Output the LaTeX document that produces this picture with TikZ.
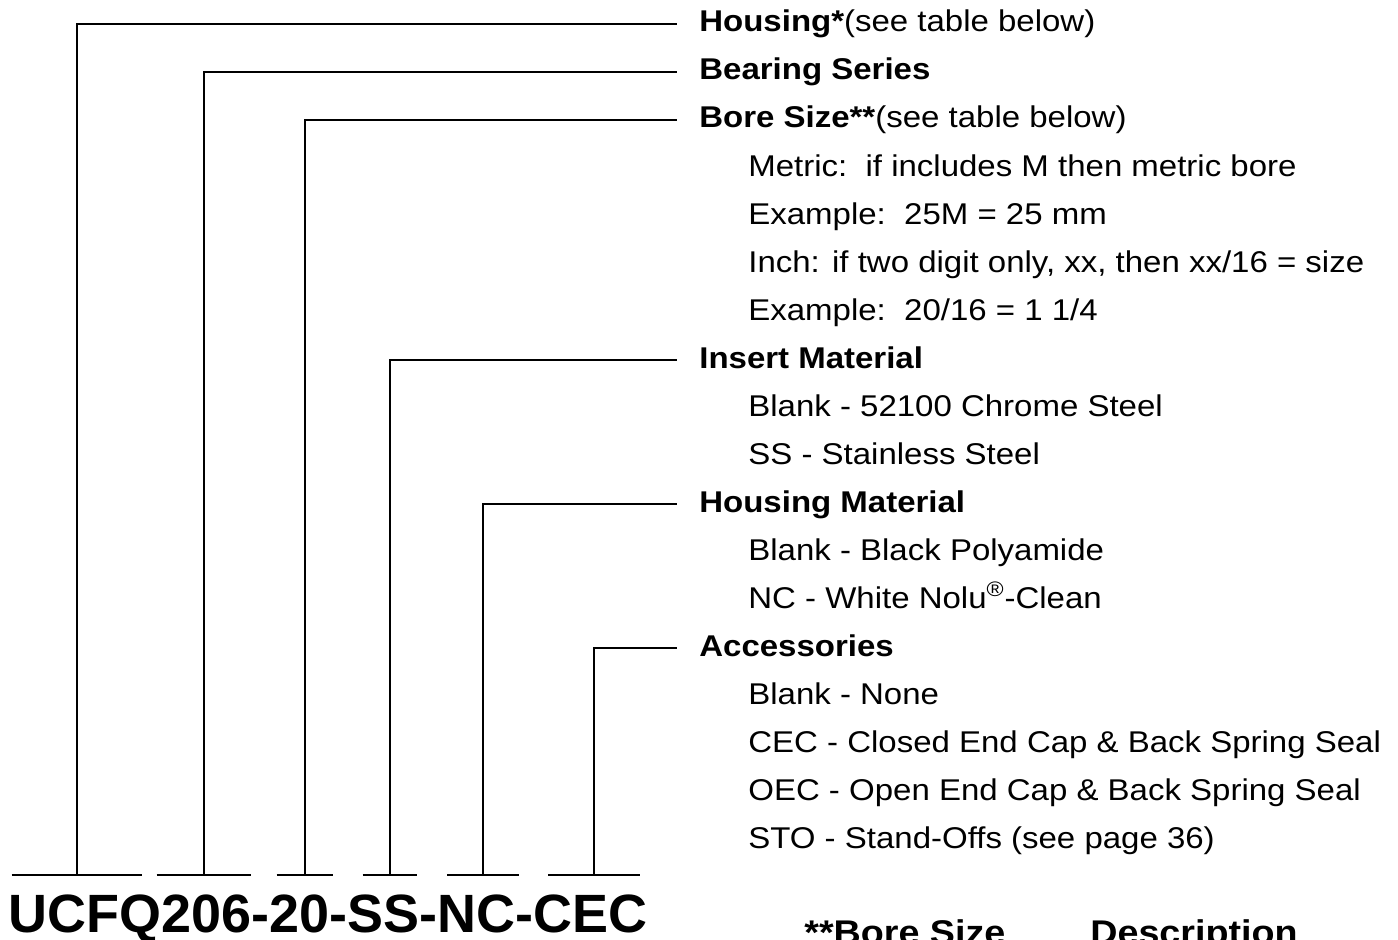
\documentclass[tikz,border=0pt]{standalone}
\usepackage{fontspec}
\setmainfont{Liberation Sans}[FakeStretch=1.1]
\newfontfamily\codefont{Liberation Sans}
\usetikzlibrary{positioning}
\tikzset{
  head/.style={anchor=base west, inner xsep=0.44cm, inner ysep=0pt, text height=0.44cm, text depth=0.12cm, font=\fontsize{17.07pt}{20pt}\selectfont\bfseries},
  sub/.style={anchor=base west, inner sep=0pt, font=\fontsize{17.07pt}{20pt}\selectfont},
  seg/.style={inner sep=0pt, minimum height=0pt},
  lead/.style={line width=1.6pt},
  code/.style={anchor=base, inner sep=0pt, font=\codefont\fontsize{30.7pt}{36pt}\selectfont\bfseries},
  tablehead/.style={anchor=base west, inner sep=0pt, font=\fontsize{19.5pt}{24pt}\selectfont\bfseries}
}
\begin{document}
\begin{tikzpicture}[x=0.02cm, y=-0.02cm]
  \useasboundingbox (0,0) rectangle (1398,939);
  \clip (0,0) rectangle (1398,939);
  % headings with leaders
  \node[head] (housing) at (677,32) {Housing*\mdseries(see table below)};
  \node[head] (series) at (677,80) {Bearing Series};
  \node[head] (bore) at (677,128) {Bore Size**\mdseries(see table below)};
  \node[sub] (metric) at (748,176) {Metric:\ \ if includes M then metric bore};
  \node[sub] (metricex) at (748,224) {Example:\ \ 25M = 25 mm};
  \node[sub] (inch) at (748,272) {Inch: if two digit only, xx, then xx/16 = size};
  \node[sub] (inchex) at (748,320) {Example:\ \ 20/16 = 1 1/4};
  \node[head] (insert) at (677,368) {Insert Material};
  \node[sub] (chrome) at (748,416) {Blank - 52100 Chrome Steel};
  \node[sub] (stainless) at (748,464) {SS - Stainless Steel};
  \node[head] (hsgmat) at (677,512) {Housing Material};
  \node[sub] (polyamide) at (748,560) {Blank - Black Polyamide};
  \node[sub] (nolu) at (748,608) {NC - White Nolu\textsuperscript{®}-Clean};
  \node[head] (acc) at (677,656) {Accessories};
  \node[sub] (none) at (748,704) {Blank - None};
  \node[sub] (cec) at (748,752) {CEC - Closed End Cap \& Back Spring Seal};
  \node[sub] (oec) at (748,800) {OEC - Open End Cap \& Back Spring Seal};
  \node[sub] (sto) at (748,848) {STO - Stand-Offs (see page 36)};

  % part number and its segments
  \node[code] (code) at (328,932) {UCFQ206-20-SS-NC-CEC};
  \node[seg, minimum width=2.6cm] (s1) at (77,875) {};
  \node[seg, minimum width=1.88cm] (s2) at (204,875) {};
  \node[seg, minimum width=1.12cm] (s3) at (305,875) {};
  \node[seg, minimum width=1.08cm] (s4) at (390,875) {};
  \node[seg, minimum width=1.42cm] (s5) at (483,875) {};
  \node[seg, minimum width=1.82cm] (s6) at (594,875) {};
  \foreach \s in {s1,s2,s3,s4,s5,s6}
    \draw[lead] (\s.west) -- (\s.east);

  \draw[lead] (s1.center) |- (housing.west);
  \draw[lead] (s2.center) |- (series.west);
  \draw[lead] (s3.center) |- (bore.west);
  \draw[lead] (s4.center) |- (insert.west);
  \draw[lead] (s5.center) |- (hsgmat.west);
  \draw[lead] (s6.center) |- (acc.west);

  % table heading, cut by the page edge
  \node[tablehead] (tbore) at (804,944) {**Bore Size};
  \node[tablehead] (tdesc) at (1090,944) {Description};
\end{tikzpicture}
\end{document}
